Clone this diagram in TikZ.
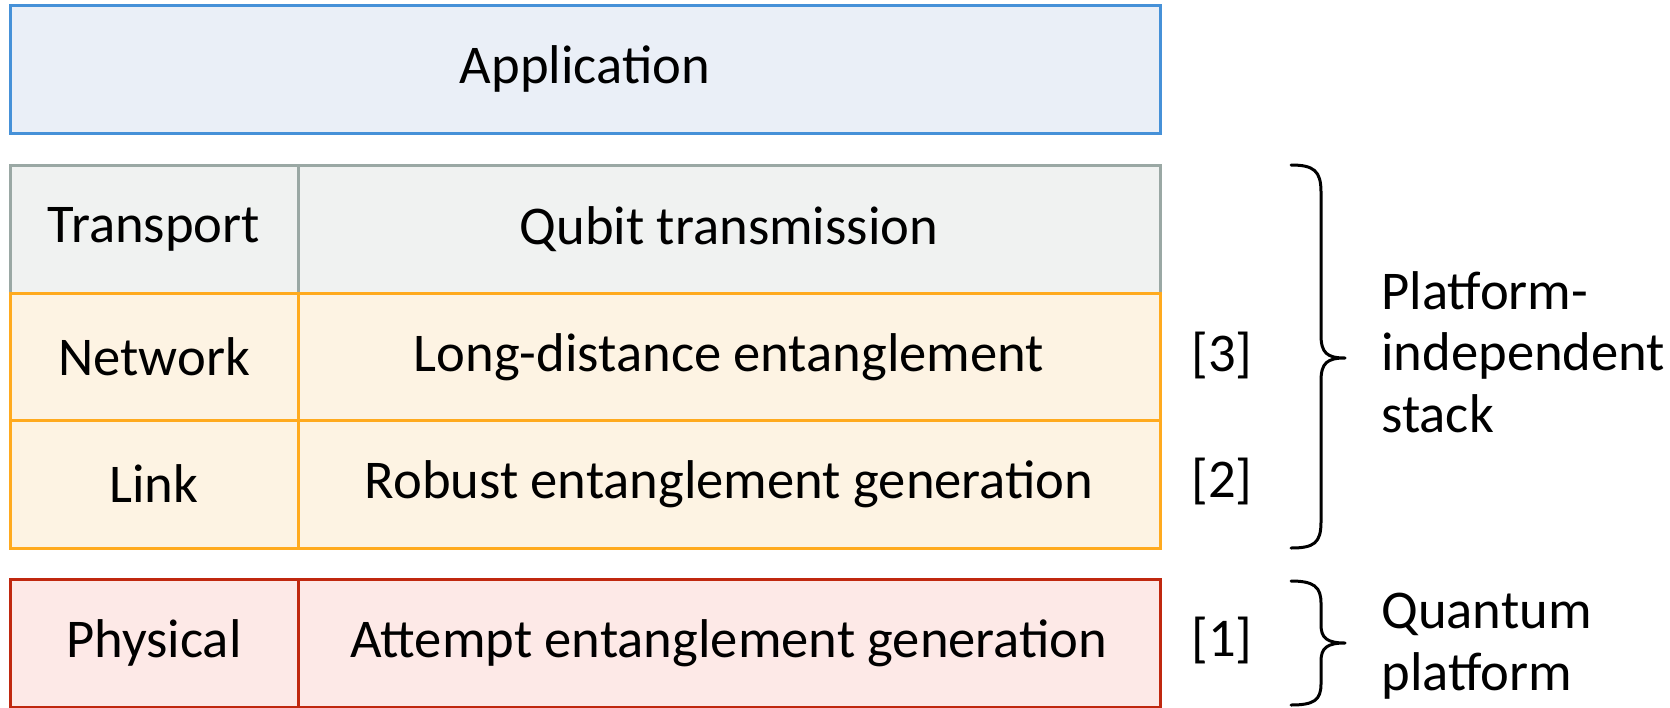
\documentclass[tikz,border=0pt]{standalone}
\usepackage{fontspec}
\setmainfont{Carlito}
\definecolor{appline}{RGB}{70,145,216}
\definecolor{appfill}{RGB}{234,239,247}
\definecolor{trline}{RGB}{154,168,164}
\definecolor{trfill}{RGB}{240,242,241}
\definecolor{nwline}{RGB}{255,170,30}
\definecolor{nwfill}{RGB}{253,243,227}
\definecolor{phline}{RGB}{192,40,15}
\definecolor{phfill}{RGB}{253,233,231}
\tikzset{
  cell/.style={draw, line width=1.5pt, inner sep=0pt, outer sep=0pt,
    minimum height=64pt, font=\fontsize{27.3}{31}\selectfont},
  leftcell/.style={cell, minimum width=144pt},
  rightcell/.style={cell, minimum width=431pt},
  appcell/.style={cell, minimum width=575pt},
  tr/.style={draw=trline, fill=trfill},
  nw/.style={draw=nwline, fill=nwfill},
  ph/.style={draw=phline, fill=phfill},
  ref/.style={font=\fontsize{27.3}{31}\selectfont},
  side/.style={font=\fontsize{27.3}{30.8}\selectfont, align=left, anchor=west, inner sep=0pt},
  brace/.style={draw, line width=1.5pt, line cap=round, line join=round},
}
\begin{document}
\begin{tikzpicture}[x=0.5pt, y=-0.5pt]
\useasboundingbox (0,0) rectangle (1670,707);

% application layer
\node[appcell, draw=appline, fill=appfill] (app) at (585,69) {Application};

% transport layer
\node[leftcell, tr] (trans) at (154,229) {Transport};
\node[rightcell, tr] (qubit) at (729,229) {Qubit transmission};

% network and link layers
\node[leftcell, nw] (net) at (154,357) {Network};
\node[rightcell, nw] (long) at (729,357) {Long-distance entanglement};
\node[leftcell, nw] (link) at (154,484) {Link};
\node[rightcell, nw] (robust) at (729,484) {Robust entanglement generation};

% physical layer
\node[leftcell, ph] (phys) at (154,643) {Physical};
\node[rightcell, ph] (attempt) at (729,643) {Attempt entanglement generation};

% references
\node[ref] (r3) at (1222,355) {[3]};
\node[ref] (r2) at (1222,481) {[2]};
\node[ref] (r1) at (1222,640) {[1]};

% braces
\coordinate (b1t) at (1291,165);
\coordinate (b1m) at (1345,358);
\coordinate (b1b) at (1291,548);
\path[brace] (b1t) .. controls (1314,165) and (1321,171) .. (1321,192)
  -- (1321,335) .. controls (1321,353) and (1327,358) .. (b1m)
  (b1m) .. controls (1327,358) and (1321,363) .. (1321,381)
  -- (1321,522) .. controls (1321,543) and (1314,548) .. (b1b);

\coordinate (b2t) at (1291,581);
\coordinate (b2m) at (1345,643);
\coordinate (b2b) at (1291,705);
\path[brace] (b2t) .. controls (1314,581) and (1321,587) .. (1321,603)
  -- (1321,625) .. controls (1321,638) and (1327,643) .. (b2m)
  (b2m) .. controls (1327,643) and (1321,648) .. (1321,661)
  -- (1321,684) .. controls (1321,700) and (1314,705) .. (b2b);

% group labels
\node[side] (stack) at (1381,352) {Platform-\\independent\\stack};
\node[side] (quantum) at (1381,646) {Quantum\\platform};
\end{tikzpicture}
\end{document}
